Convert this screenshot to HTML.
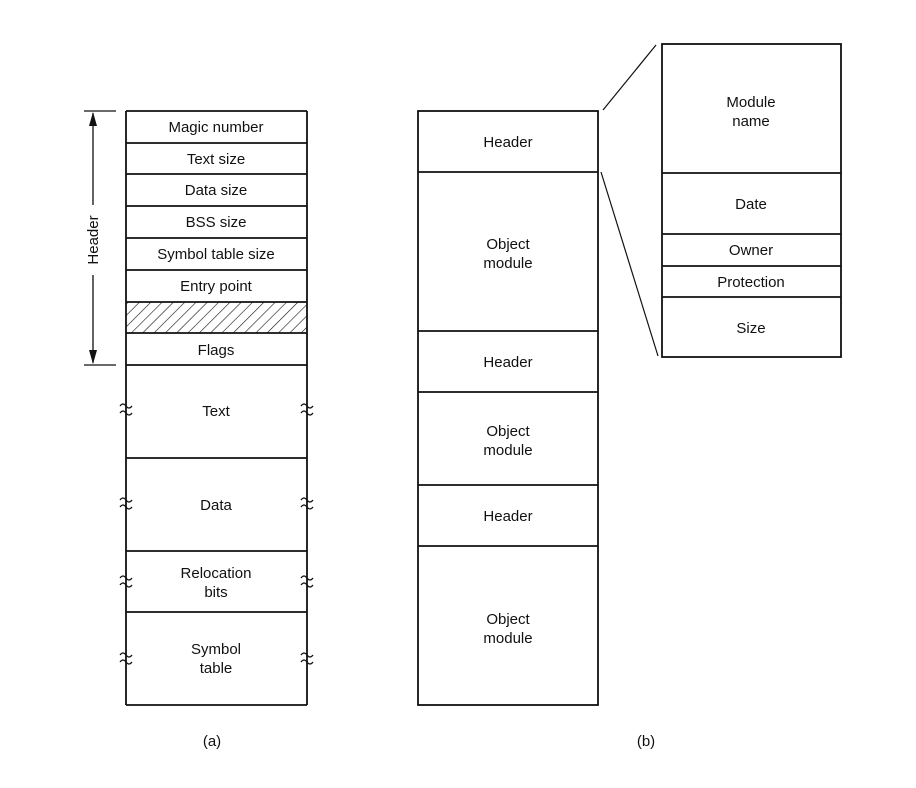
<!DOCTYPE html>
<html><head><meta charset="utf-8"><style>
html,body{margin:0;padding:0;background:#fff;}
svg{display:block;}
text{font-family:"Liberation Sans",Arial,sans-serif;font-size:15px;fill:#111;text-anchor:middle;}
</style></head><body>
<svg width="916" height="788" viewBox="0 0 916 788" xmlns="http://www.w3.org/2000/svg">
<defs>
<pattern id="hatch" patternUnits="userSpaceOnUse" width="8" height="8" patternTransform="rotate(45)">
<line x1="0" y1="0" x2="0" y2="8" stroke="#111" stroke-width="1.2"/>
</pattern>
<marker id="ar" markerWidth="10" markerHeight="10" refX="5" refY="9" orient="auto" markerUnits="userSpaceOnUse">
<path d="M1,0 L5,9 L9,0 Z" fill="#111"/>
</marker>
</defs>
<g stroke="#111" stroke-width="1.8" fill="none">
<!-- (a) -->
<rect x="303" y="0" width="0" height="0"/>
<rect x="126" y="302" width="181" height="31" fill="url(#hatch)" stroke="none"/>
<line x1="126" y1="111" x2="126" y2="705"/>
<line x1="307" y1="111" x2="307" y2="705"/>
<line x1="126" y1="111" x2="307" y2="111"/>
<line x1="126" y1="143" x2="307" y2="143"/>
<line x1="126" y1="174" x2="307" y2="174"/>
<line x1="126" y1="206" x2="307" y2="206"/>
<line x1="126" y1="238" x2="307" y2="238"/>
<line x1="126" y1="270" x2="307" y2="270"/>
<line x1="126" y1="302" x2="307" y2="302"/>
<line x1="126" y1="333" x2="307" y2="333"/>
<line x1="126" y1="365" x2="307" y2="365"/>
<line x1="126" y1="458" x2="307" y2="458"/>
<line x1="126" y1="551" x2="307" y2="551"/>
<line x1="126" y1="612" x2="307" y2="612"/>
<line x1="126" y1="705" x2="307" y2="705"/>
<!-- header dimension -->
<line x1="84" y1="111" x2="116" y2="111" stroke-width="1.2"/>
<line x1="84" y1="365" x2="116" y2="365" stroke-width="1.2"/>
<line x1="93" y1="113" x2="93" y2="205" stroke-width="1.3"/>
<line x1="93" y1="275" x2="93" y2="363" stroke-width="1.3"/>
<path d="M89,126 L93,112 L97,126 Z M89,350 L93,364 L97,350 Z" fill="#111" stroke="none"/>
<!-- squiggles -->
<g stroke-width="1.3">
<path d="M120,406 q3,-4 6,0 t6,0 M120,413 q3,-4 6,0 t6,0"/>
<path d="M301,406 q3,-4 6,0 t6,0 M301,413 q3,-4 6,0 t6,0"/>
<path d="M120,500 q3,-4 6,0 t6,0 M120,507 q3,-4 6,0 t6,0"/>
<path d="M301,500 q3,-4 6,0 t6,0 M301,507 q3,-4 6,0 t6,0"/>
<path d="M120,578 q3,-4 6,0 t6,0 M120,585 q3,-4 6,0 t6,0"/>
<path d="M301,578 q3,-4 6,0 t6,0 M301,585 q3,-4 6,0 t6,0"/>
<path d="M120,655 q3,-4 6,0 t6,0 M120,662 q3,-4 6,0 t6,0"/>
<path d="M301,655 q3,-4 6,0 t6,0 M301,662 q3,-4 6,0 t6,0"/>
</g>
<!-- (b) -->
<rect x="418" y="111" width="180" height="594"/>
<line x1="418" y1="172" x2="598" y2="172"/>
<line x1="418" y1="331" x2="598" y2="331"/>
<line x1="418" y1="392" x2="598" y2="392"/>
<line x1="418" y1="485" x2="598" y2="485"/>
<line x1="418" y1="546" x2="598" y2="546"/>
<!-- zoom box -->
<rect x="662" y="44" width="179" height="313"/>
<line x1="662" y1="173" x2="841" y2="173"/>
<line x1="662" y1="234" x2="841" y2="234"/>
<line x1="662" y1="266" x2="841" y2="266"/>
<line x1="662" y1="297" x2="841" y2="297"/>
<line x1="603" y1="110" x2="656" y2="45" stroke-width="1.2"/>
<line x1="601" y1="172" x2="658" y2="356" stroke-width="1.2"/>
</g>
<g>
<text x="216" y="132">Magic number</text>
<text x="216" y="164">Text size</text>
<text x="216" y="195">Data size</text>
<text x="216" y="227">BSS size</text>
<text x="216" y="259">Symbol table size</text>
<text x="216" y="291">Entry point</text>
<text x="216" y="355">Flags</text>
<text x="216" y="416">Text</text>
<text x="216" y="510">Data</text>
<text x="216" y="578">Relocation</text>
<text x="216" y="597">bits</text>
<text x="216" y="654">Symbol</text>
<text x="216" y="673">table</text>
<text transform="translate(98,240) rotate(-90)">Header</text>
<text x="508" y="147">Header</text>
<text x="508" y="249">Object</text>
<text x="508" y="268">module</text>
<text x="508" y="367">Header</text>
<text x="508" y="436">Object</text>
<text x="508" y="455">module</text>
<text x="508" y="521">Header</text>
<text x="508" y="624">Object</text>
<text x="508" y="643">module</text>
<text x="751" y="107">Module</text>
<text x="751" y="126">name</text>
<text x="751" y="209">Date</text>
<text x="751" y="255">Owner</text>
<text x="751" y="287">Protection</text>
<text x="751" y="333">Size</text>
<text x="212" y="746">(a)</text>
<text x="646" y="746">(b)</text>
</g>
</svg>
</body></html>
